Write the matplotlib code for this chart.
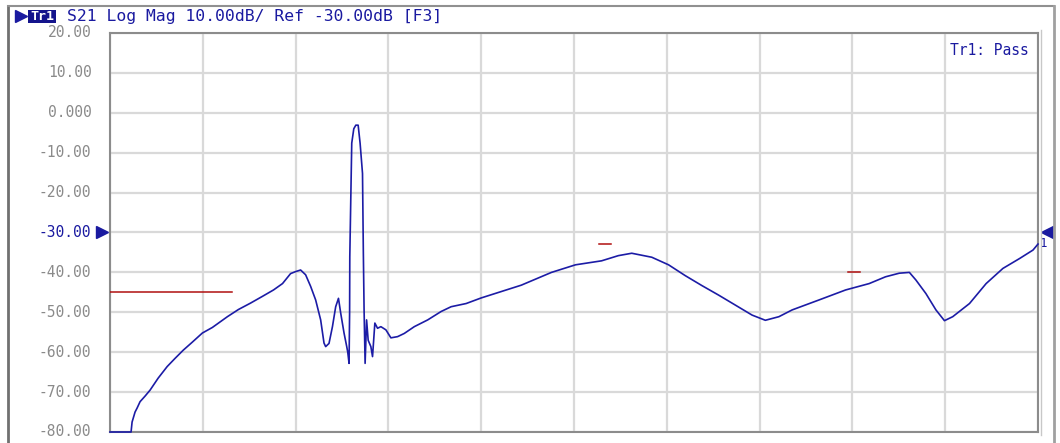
import matplotlib
matplotlib.use('Agg')
import matplotlib.pyplot as plt
from matplotlib.lines import Line2D
from matplotlib.patches import Rectangle

# ── Data (x in graticule divisions, y in dB) ──────────────────────────────────
freq_div = [0.0, 0.227, 0.238, 0.270, 0.292, 0.324, 0.378, 0.432, 0.519, 0.616,
            0.703, 0.789, 0.886, 0.995, 1.103, 1.265, 1.384, 1.514, 1.643, 1.762,
            1.859, 1.946, 2.0, 2.054, 2.108, 2.162, 2.216, 2.270, 2.306, 2.324,
            2.360, 2.397, 2.432, 2.462, 2.486, 2.522, 2.551, 2.562, 2.576, 2.582,
            2.584, 2.605, 2.627, 2.649, 2.674, 2.695, 2.721, 2.730, 2.738, 2.749,
            2.765, 2.782, 2.811, 2.829, 2.854, 2.883, 2.919, 2.973, 3.027, 3.099,
            3.171, 3.279, 3.424, 3.568, 3.676, 3.838, 4.0, 4.216, 4.432, 4.757,
            5.016, 5.297, 5.478, 5.622, 5.838, 6.019, 6.198, 6.378, 6.559, 6.739,
            6.919, 7.062, 7.208, 7.351, 7.641, 7.927, 8.181, 8.357, 8.505, 8.614,
            8.684, 8.792, 8.900, 8.992, 9.081, 9.262, 9.441, 9.622, 9.803, 9.946,
            10.0]
s21_db = [-80.0, -80.0, -77.5, -75.0, -74.0, -72.4, -71.0, -69.5, -66.5, -63.6,
          -61.5, -59.5, -57.5, -55.2, -53.8, -51.1, -49.3, -47.7, -46.0, -44.4,
          -42.8, -40.3, -39.8, -39.4, -40.6, -43.5, -46.9, -51.9, -57.7, -58.6,
          -57.8, -53.6, -48.6, -46.5, -50.2, -55.2, -58.6, -60.0, -62.8, -50.0,
          -36.1, -7.6, -4.0, -3.1, -3.1, -7.6, -15.2, -35.0, -49.4, -62.8,
          -51.9, -57.0, -58.6, -61.1, -52.7, -54.0, -53.6, -54.4, -56.4, -56.1,
          -55.3, -53.6, -51.9, -49.8, -48.6, -47.8, -46.4, -44.8, -43.2, -40.0,
          -38.1, -37.1, -35.8, -35.2, -36.2, -38.1, -40.8, -43.3, -45.7, -48.2,
          -50.7, -52.0, -51.1, -49.4, -46.9, -44.4, -42.8, -41.1, -40.2, -40.0,
          -41.9, -45.3, -49.4, -52.1, -51.1, -47.8, -42.8, -39.0, -36.5, -34.4,
          -32.9]

# limit-line segments: (x start, x end, level dB)
limit_x0 = [0.0, 5.27, 7.95]
limit_x1 = [1.31, 5.40, 8.08]
limit_db = [-44.8, -32.9, -40.0]

y_ticks = [20, 10, 0, -10, -20, -30, -40, -50, -60, -70, -80]
y_labels = ['20.00', '10.00', '0.000', '-10.00', '-20.00', '-30.00',
            '-40.00', '-50.00', '-60.00', '-70.00', '-80.00']
REF_DB = -30

header = 'S21 Log Mag 10.00dB/ Ref -30.00dB [F3]'

# ── Style ─────────────────────────────────────────────────────────────────────
TRACE = '#1c1ca6'
BLUE = '#1a1aa0'
GREY_TXT = '#8a8a8a'
GRID = '#d9d9d9'
MONO = ['DejaVu Sans Mono']

W, H = 1060, 443
fig = plt.figure(figsize=(W / 100, H / 100), dpi=100)
fig.patch.set_facecolor('white')

def fx(px):
    return px / W

def fy(py):
    return 1 - py / H

ax = fig.add_axes([fx(110), fy(432), fx(1038) - fx(110), fy(33) - fy(432)])
ax.set_xlim(0, 10)
ax.set_ylim(-80, 20)
ax.set_xticks(range(0, 11))
ax.set_yticks(y_ticks)
ax.grid(True, color=GRID, linewidth=1.6)
ax.tick_params(length=0, labelbottom=False, labelleft=False)
for sp in ax.spines.values():
    sp.set_color('#8c8c8c')
    sp.set_linewidth(1.5)

for x0, x1, lv in zip(limit_x0, limit_x1, limit_db):
    ax.plot([x0, x1], [lv, lv], color='#b01010', linewidth=1.1, zorder=3)

ax.plot(freq_div, s21_db, color=TRACE, linewidth=1.2, zorder=4, clip_on=False)

# y labels (left of the graticule)
for v, lab in zip(y_ticks, y_labels):
    ax.text(-0.2, v, lab, ha='right', va='center', fontsize=10.5,
            family=MONO, color=BLUE if v == REF_DB else GREY_TXT,
            transform=ax.transData, clip_on=False)

# reference markers
ax.plot([-0.09], [REF_DB], marker='>', markersize=9, color=BLUE,
        clip_on=False, zorder=5)
ax.plot([10.1], [REF_DB], marker='<', markersize=9, color=BLUE,
        clip_on=False, zorder=5)
ax.text(10.06, REF_DB - 2.8, '1', fontsize=9, family=MONO, color=BLUE,
        ha='center', va='center', clip_on=False)

ax.text(0.99, 0.975, 'Tr1: Pass', transform=ax.transAxes, ha='right',
        va='top', fontsize=10.5, family=MONO, color=BLUE)

# ── Outer frame & header ──────────────────────────────────────────────────────
fig.add_artist(Line2D([fx(8), fx(8)], [fy(6), 0], color='#707070', linewidth=2))
fig.add_artist(Line2D([fx(8), fx(1054)], [fy(6), fy(6)], color='#909090', linewidth=1.5))
fig.add_artist(Line2D([fx(1054), fx(1054)], [fy(6), 0], color='#a0a0a0', linewidth=2))
fig.add_artist(Line2D([fx(1041), fx(1041)], [fy(30), fy(435)], color='#c8c8c8', linewidth=1))

fig.add_artist(Line2D([fx(21)], [fy(16)], marker='>', markersize=8,
                      color=BLUE, linestyle='none'))
fig.add_artist(Rectangle((fx(28), fy(23)), fx(28), fy(10) - fy(23),
                         facecolor='#14148c', edgecolor='none'))
fig.text(fx(42), fy(16.5), 'Tr1', ha='center', va='center', fontsize=9.5,
         family=MONO, color='white', weight='bold')
fig.text(fx(67), fy(16.5), header, ha='left', va='center', fontsize=11.8,
         family=MONO, color=BLUE)

fig.savefig('out.png', dpi=100, facecolor='white')
